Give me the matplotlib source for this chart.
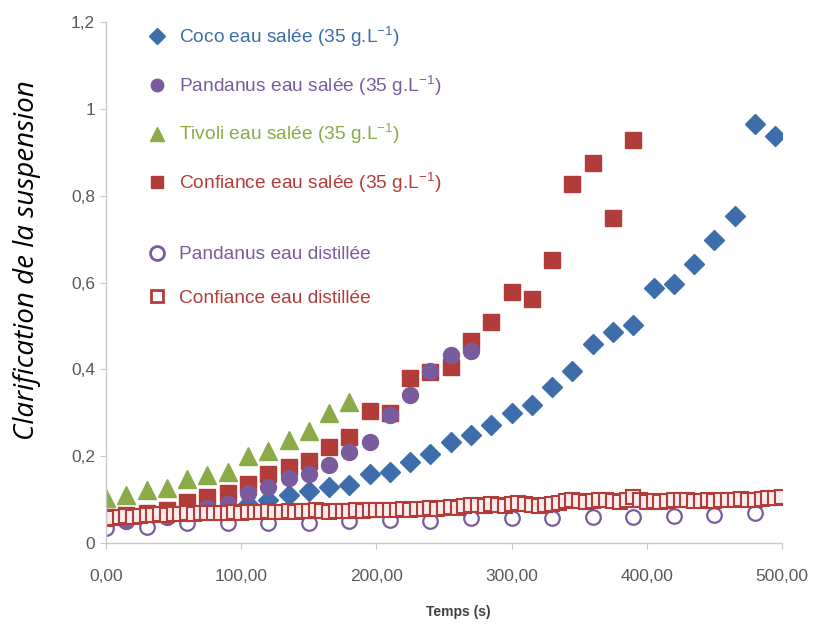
import numpy as np
import matplotlib.pyplot as plt
from matplotlib.lines import Line2D

plt.rcParams['font.family'] = ['Liberation Sans', 'DejaVu Sans']
plt.rcParams['mathtext.fontset'] = 'custom'
plt.rcParams['mathtext.rm'] = 'Liberation Sans'
plt.rcParams['mathtext.it'] = 'Liberation Sans'

# temps (s), pas de 15 s pour les suspensions en eau salée
t_coco = np.arange(0, 496, 15)
coco_salee = [0.05, 0.055, 0.06, 0.065, 0.07, 0.075, 0.08, 0.09, 0.10, 0.11, 0.12,
              0.129, 0.134, 0.159, 0.163, 0.187, 0.206, 0.233, 0.249, 0.271, 0.300,
              0.317, 0.360, 0.397, 0.459, 0.487, 0.503, 0.588, 0.596, 0.642, 0.697,
              0.753, 0.965, 0.937]

t_pandanus = np.arange(0, 271, 15)
pandanus_salee = [0.045, 0.05, 0.055, 0.06, 0.07, 0.08, 0.09, 0.115, 0.13, 0.15,
                  0.16, 0.18, 0.21, 0.233, 0.295, 0.342, 0.397, 0.434, 0.443]

t_tivoli = np.arange(0, 181, 15)
tivoli_salee = [0.103, 0.111, 0.123, 0.127, 0.148, 0.157, 0.163, 0.20, 0.212,
                0.237, 0.259, 0.30, 0.325]

t_confiance = np.arange(0, 391, 15)
confiance_salee = [0.06, 0.065, 0.07, 0.075, 0.095, 0.105, 0.115, 0.135, 0.16,
                   0.175, 0.19, 0.22, 0.245, 0.305, 0.30, 0.38, 0.395, 0.405,
                   0.465, 0.51, 0.578, 0.563, 0.652, 0.826, 0.876, 0.748, 0.928]

# eau distillée
t_pandanus_dist = np.arange(0, 481, 30)
pandanus_distillee = [0.035, 0.038, 0.045, 0.046, 0.046, 0.047, 0.05, 0.052, 0.05,
                      0.057, 0.058, 0.057, 0.06, 0.06, 0.063, 0.065, 0.068]

t_confiance_dist = np.arange(0, 501, 5)
confiance_distillee = [
    0.055, 0.058, 0.06, 0.062, 0.06, 0.063, 0.065, 0.064, 0.066, 0.065,
    0.067, 0.066, 0.068, 0.067, 0.069, 0.068, 0.07, 0.069, 0.07, 0.071,
    0.07, 0.072, 0.071, 0.072, 0.073, 0.072, 0.071, 0.073, 0.072, 0.074,
    0.073, 0.075, 0.074, 0.072, 0.073, 0.074, 0.073, 0.075, 0.074, 0.076,
    0.075, 0.076, 0.077, 0.076, 0.078, 0.077, 0.079, 0.078, 0.08, 0.079,
    0.08, 0.082, 0.081, 0.086, 0.088, 0.087, 0.085, 0.09, 0.088, 0.086,
    0.089, 0.092, 0.09, 0.087, 0.085, 0.088, 0.09, 0.093, 0.096, 0.098,
    0.097, 0.095, 0.096, 0.098, 0.1, 0.097, 0.095, 0.099, 0.105, 0.098,
    0.094, 0.096, 0.095, 0.097, 0.098, 0.1, 0.099, 0.097, 0.096, 0.098,
    0.097, 0.099, 0.098, 0.1, 0.101, 0.1, 0.099, 0.102, 0.103, 0.104,
    0.105]

bleu = '#3D6DAA'
violet = '#7A5C9E'
vert = '#8BAA48'
rouge = '#B23C3A'

fig = plt.figure(figsize=(8.17, 6.30), dpi=100)
ax = fig.add_axes([106/817, 1-543/630, 676/817, 521/630])

ax.plot(t_coco, coco_salee, ls='none', marker='D', ms=10.5, color=bleu, mec=bleu)
ax.plot(t_confiance, confiance_salee, ls='none', marker='s', ms=11.5, color=rouge, mec=rouge)
ax.plot(t_pandanus, pandanus_salee, ls='none', marker='o', ms=11.5, color=violet, mec=violet)
ax.plot(t_tivoli, tivoli_salee, ls='none', marker='^', ms=12.5, color=vert, mec=vert)
ax.plot(t_pandanus_dist, pandanus_distillee, ls='none', marker='o', ms=10.5, mfc='white',
        mec=violet, mew=1.6)
ax.plot(t_confiance_dist, confiance_distillee, ls='none', marker='s', ms=10.5, mfc='#FBEDED',
        mec=rouge, mew=1.5)

ax.set_xlim(0, 500)
ax.set_ylim(0, 1.2)
ax.set_xticks(np.arange(0, 501, 100))
ax.set_xticklabels([f'{v},00' for v in range(0, 501, 100)])
ax.set_yticks([0, 0.2, 0.4, 0.6, 0.8, 1.0, 1.2])
ax.set_yticklabels(['0', '0,2', '0,4', '0,6', '0,8', '1', '1,2'])

for s in ['top', 'right']:
    ax.spines[s].set_visible(False)
for s in ['left', 'bottom']:
    ax.spines[s].set_color('#C8C8C8')
    ax.spines[s].set_linewidth(1.0)
ax.tick_params(axis='both', colors='#C8C8C8', labelcolor='#5A5A5A', labelsize=12.5, length=4)
ax.tick_params(axis='x', pad=15)
ax.tick_params(axis='y', pad=4)

ax.set_xlabel('Temps (s)', fontsize=10, fontweight='bold', color='#404040', va='center')
ax.xaxis.set_label_coords((458-106)/676, (543-612)/521)
ax.set_ylabel('Clarification de la suspension', family='Open Sans', style='italic',
              fontsize=20, color='black')
ax.yaxis.set_label_coords((41-106)/676, (543-260)/521)

def poignee(marker, couleur, creux=False, ms=9):
    if creux:
        return Line2D([], [], ls='none', marker=marker, ms=ms, mfc='white', mec=couleur, mew=2)
    return Line2D([], [], ls='none', marker=marker, ms=ms, color=couleur)

lab1 = [r'Coco eau salée (35 g.L$^{-1}$)', r'Pandanus eau salée (35 g.L$^{-1}$)',
        r'Tivoli eau salée (35 g.L$^{-1}$)', r'Confiance eau salée (35 g.L$^{-1}$)']
lab2 = ['Pandanus eau distillée', 'Confiance eau distillée']
h1 = [poignee('D', bleu, ms=8), poignee('o', violet), poignee('^', vert, ms=10), poignee('s', rouge)]
h2 = [poignee('o', violet, True, 10), poignee('s', rouge, True, 9)]

leg1 = ax.legend(h1, lab1, loc='upper left', bbox_to_anchor=(147/817, 1-25/630),
                 bbox_transform=fig.transFigure, frameon=False, fontsize=13.8,
                 handlelength=1.0, handletextpad=0.65, labelspacing=1.28, borderpad=0,
                 borderaxespad=0, labelcolor=[bleu, violet, vert, rouge])
ax.add_artist(leg1)
ax.legend(h2, lab2, loc='upper left', bbox_to_anchor=(147/817, 1-246/630),
          bbox_transform=fig.transFigure, frameon=False, fontsize=13.8,
          handlelength=1.0, handletextpad=0.65, labelspacing=1.35, borderpad=0,
          borderaxespad=0, labelcolor=[violet, rouge])

fig.savefig('out.png', dpi=100, facecolor='white')
